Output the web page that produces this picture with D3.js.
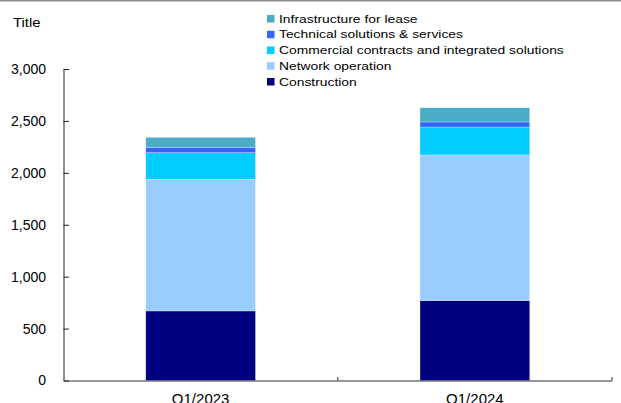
<!DOCTYPE html>
<html>
<head>
<meta charset="utf-8">
<script src="https://cdn.jsdelivr.net/npm/d3@7"></script>
<style>
  html, body { margin: 0; padding: 0; background: #fff; }
  svg { display: block; font-family: "Liberation Sans", Arial, sans-serif; }
</style>
</head>
<body>
<svg id="chart" width="621" height="403"></svg>
<script>
// Quarters on the x axis
const categories = ["Q1/2023", "Q1/2024"];

// Revenue segments, stacked bottom to top
const seriesNames = [
  "Construction",
  "Network operation",
  "Commercial contracts and integrated solutions",
  "Technical solutions & services",
  "Infrastructure for lease"
];
const construction = [670, 770];
const networkOperation = [1268, 1402];
const commercialContracts = [256, 269];
const technicalSolutions = [52, 49];
const infrastructureLease = [96, 137];

const seriesColors = ["#000080", "#99CCFF", "#00CCFF", "#3366FF", "#4BACC6"];

// Y-axis ticks
const yTicks = [0, 500, 1000, 1500, 2000, 2500, 3000];

const seriesValues = [construction, networkOperation, commercialContracts, technicalSolutions, infrastructureLease];
const rows = categories.map((c, i) => {
  const r = { category: c };
  seriesNames.forEach((s, j) => { r[s] = seriesValues[j][i]; });
  return r;
});

const svg = d3.select("#chart");
const margin = { left: 63.5, right: 9, top: 69, bottom: 22.5 };
const W = 621, H = 403;

// thin frame line along the top edge
svg.append("rect").attr("x", 0).attr("y", 0).attr("width", W).attr("height", 1.5).attr("fill", "#8c8c8c");

const x = d3.scaleBand().domain(categories).range([margin.left, W - margin.right]).padding(0);
const y = d3.scaleLinear().domain([0, 3000]).range([H - margin.bottom, margin.top]);

const barFrac = 0.4;
const stack = d3.stack().keys(seriesNames)(rows);

svg.append("g").selectAll("g")
  .data(stack)
  .join("g")
  .attr("fill", (d, i) => seriesColors[i])
  .selectAll("rect")
  .data(d => d)
  .join("rect")
  .attr("x", d => x(d.data.category) + x.bandwidth() * (1 - barFrac) / 2)
  .attr("width", x.bandwidth() * barFrac)
  .attr("y", d => y(d[1]))
  .attr("height", d => y(d[0]) - y(d[1]))
  .attr("stroke", "#ffffff")
  .attr("stroke-opacity", 0.45)
  .attr("stroke-width", 0.6);

// Y axis
const yAxis = svg.append("g")
  .attr("transform", `translate(${margin.left},0)`)
  .call(d3.axisLeft(y).tickValues(yTicks).tickFormat(d3.format(",")).tickSize(-5.5).tickSizeOuter(0).tickPadding(17.5));
yAxis.select(".domain").attr("stroke", "#222").attr("stroke-width", 1);
yAxis.selectAll(".tick line").attr("stroke", "#222");
yAxis.selectAll(".tick text").attr("fill", "#000").style("font-size", "14px").style("font-family", "Liberation Sans, Arial, sans-serif");

// X axis with category labels
const xAxis = svg.append("g")
  .attr("transform", `translate(0,${H - margin.bottom})`)
  .call(d3.axisBottom(x).tickSize(0).tickSizeOuter(0).tickPadding(12.5));
xAxis.select(".domain").attr("stroke", "#333").attr("stroke-width", 1.2);
xAxis.selectAll(".tick text").attr("fill", "#000").style("font-size", "15px").style("font-family", "Liberation Sans, Arial, sans-serif");

// boundary ticks between categories
const bounds = categories.map(c => x(c) + x.bandwidth());
xAxis.selectAll("line.bound")
  .data(bounds)
  .join("line")
  .attr("class", "bound")
  .attr("x1", d => d).attr("x2", d => d)
  .attr("y1", 0).attr("y2", -3.5)
  .attr("stroke", "#333");

// Chart title
svg.append("text")
  .attr("transform", "translate(13,26.7) scale(1.18,1)")
  .style("font-size", "12.6px")
  .attr("fill", "#000")
  .text("Title");

// Legend, listed top to bottom in reverse stacking order
const legendOrder = seriesNames.map((s, i) => ({ name: s, color: seriesColors[i] })).reverse();
const legend = svg.append("g").attr("transform", "translate(267,15)");
const item = legend.selectAll("g")
  .data(legendOrder)
  .join("g")
  .attr("transform", (d, i) => `translate(0,${i * 15.75})`);
item.append("rect").attr("width", 7.5).attr("height", 7.5).attr("fill", d => d.color);
item.append("text")
  .attr("transform", "translate(12,7.7) scale(1.26,1)")
  .style("font-size", "11px")
  .attr("fill", "#000")
  .text(d => d.name);
</script>
</body>
</html>
